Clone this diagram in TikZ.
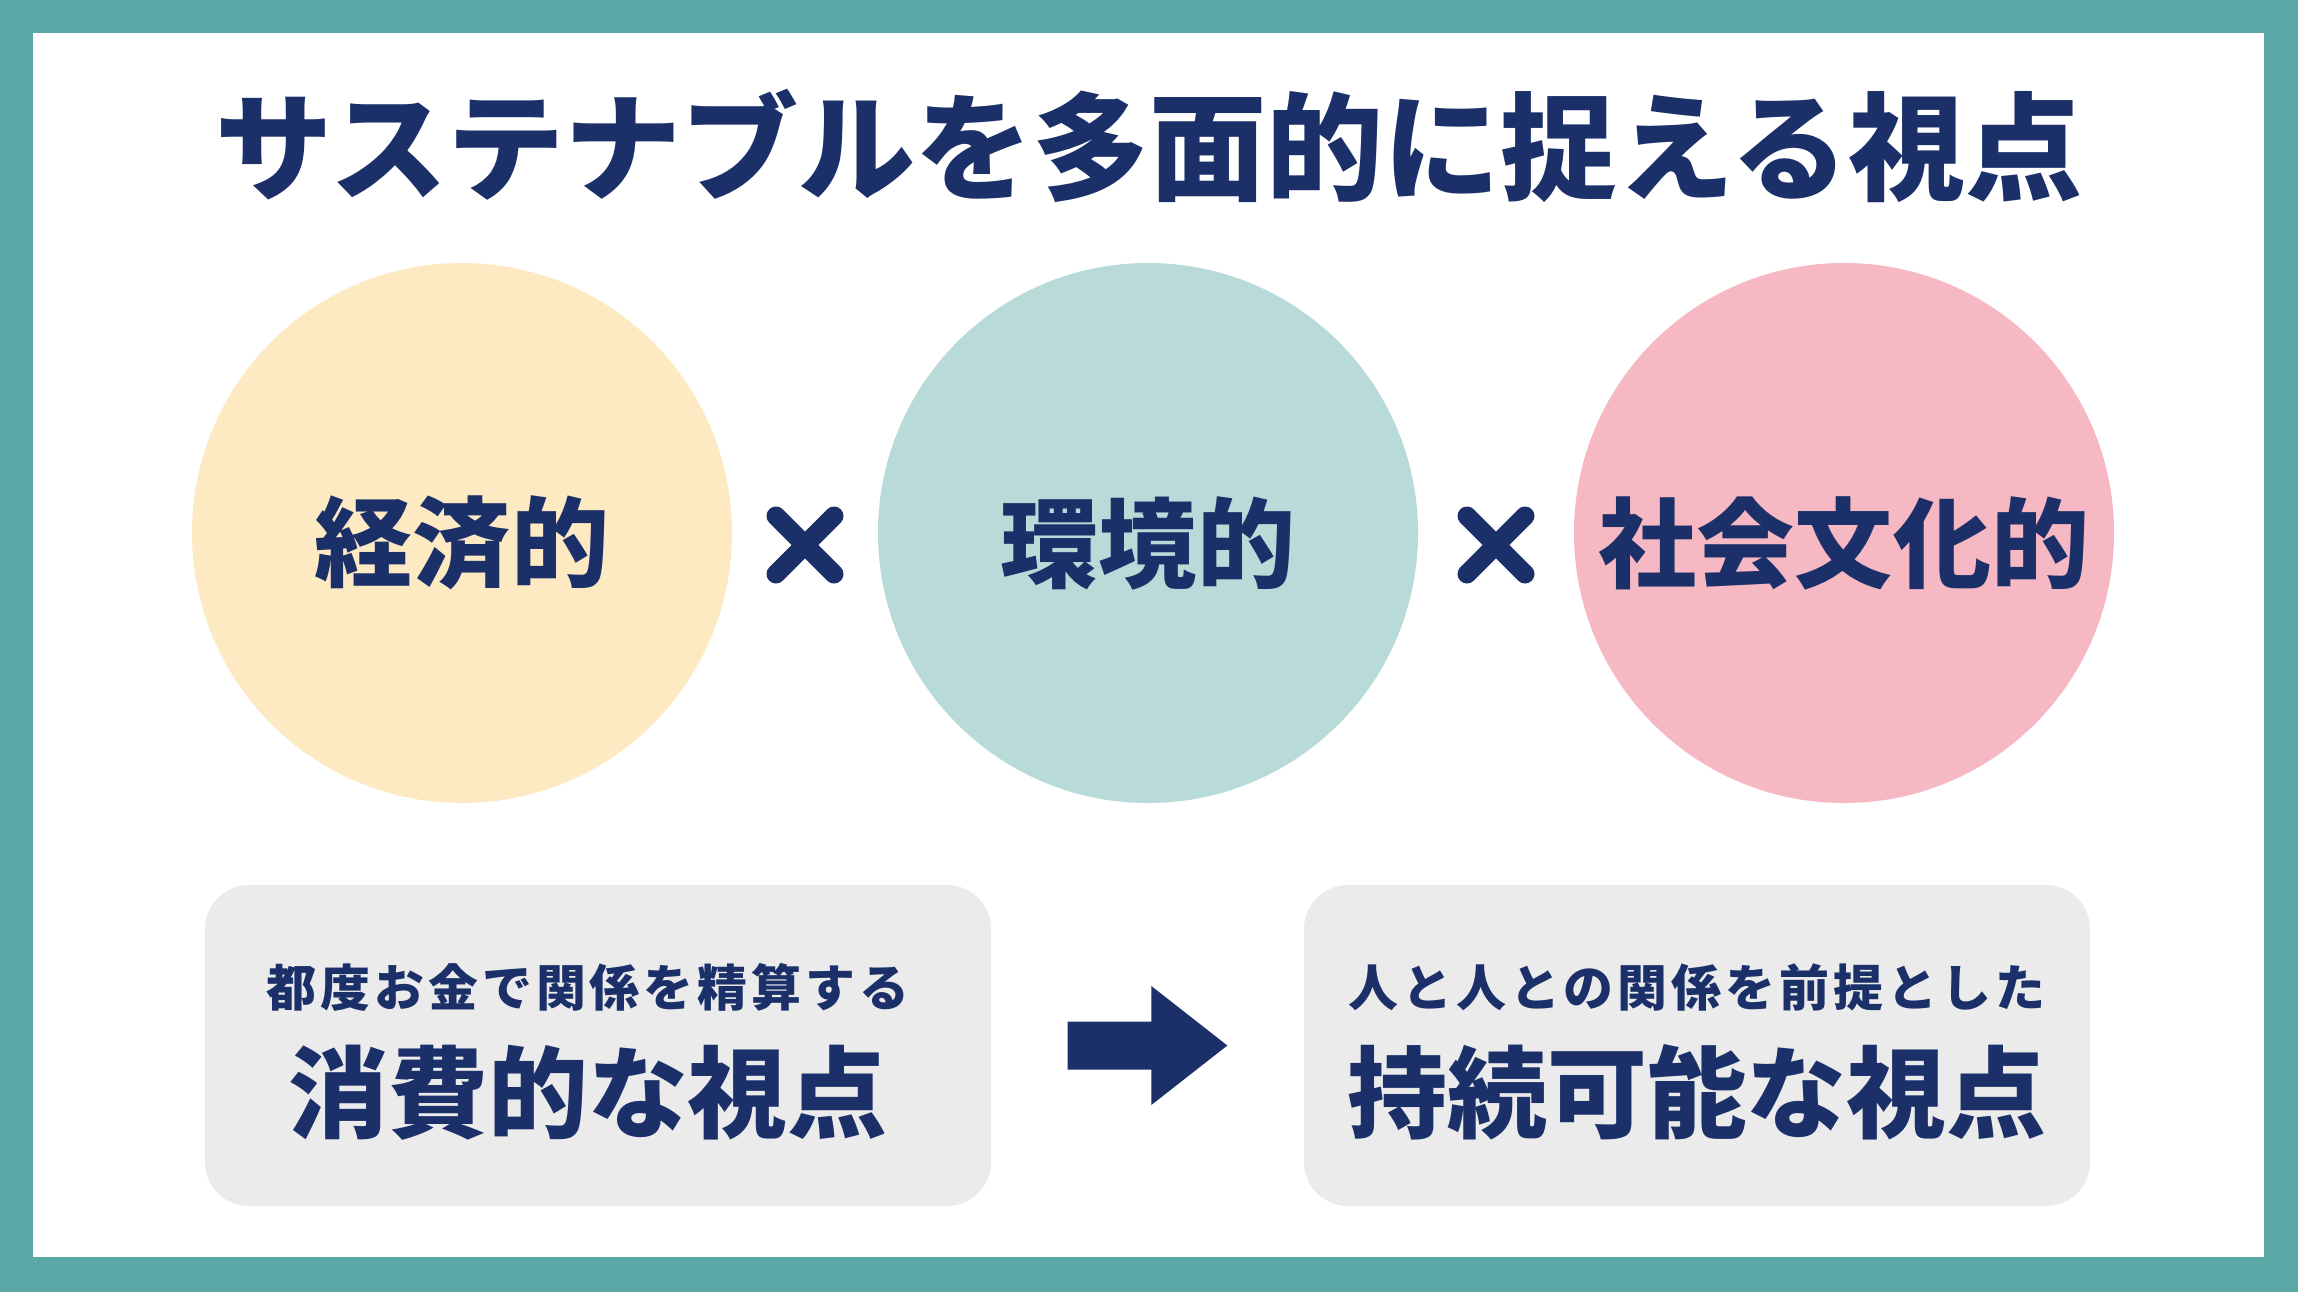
\documentclass[tikz,border=0pt]{standalone}
\usepackage{fontspec}
\newfontfamily\jpfont{Noto Sans CJK JP}[BoldFont={Noto Sans CJK JP Black}]
\usetikzlibrary{positioning,calc}
\definecolor{navy}{RGB}{27,47,105}
\definecolor{frame}{RGB}{89,168,166}
\definecolor{cream}{RGB}{253,234,195}
\definecolor{mint}{RGB}{184,218,217}
\definecolor{blush}{RGB}{246,184,195}
\definecolor{panel}{RGB}{235,235,235}
\tikzset{
  heading/.style={font=\jpfont\bfseries\fontsize{33.3}{36}\selectfont,text=navy},
  disc/.style={circle,fill=#1,minimum size=54mm,inner sep=0pt},
  disc/.default=cream,
  disc label/.style={font=\jpfont\bfseries\fontsize{27.9}{30}\selectfont,text=navy},
  card/.style={fill=panel,rounded corners=4.4mm,minimum width=78.6mm,minimum height=32.1mm},
  card sub/.style={font=\jpfont\bfseries\fontsize{14.2}{16}\selectfont\addfontfeature{LetterSpace=8},text=navy},
  card main/.style={font=\jpfont\bfseries\fontsize{28.4}{30}\selectfont,text=navy},
  % pictogram
  pics/cross/.style={code={
    \draw[#1,line width=1.9mm,line cap=round] (-0.29,-0.29) -- (0.29,0.29) (-0.29,0.29) -- (0.29,-0.29);
  }},
  pics/cross/.default=navy,
}

\begin{document}
\begin{tikzpicture}
  \useasboundingbox (0,0) rectangle (22.98,12.92);
  \fill[frame] (0,0) rectangle (22.98,12.92);
  \fill[white] (0.33,0.35) rectangle (22.64,12.59);

  \node[heading] (title) at (11.49,11.46) {サステナブルを多面的に捉える視点};

  \foreach \x/\c/\n/\l in {
    4.62/cream/eco/経済的,
    11.48/mint/env/環境的,
    18.44/blush/soc/社会文化的}
  {
    \node[disc=\c] (\n) at (\x,7.59) {};
    \node[disc label] (\n t) at ($(\n)+(0,-0.1)$) {\l};
  }
  \path ($(eco)!0.5!(env)+(0,-0.12)$) pic {cross};
  \path ($(env)!0.5!(soc)+(0,-0.12)$) pic {cross};

  \node[card] (cons) at (5.98,2.465) {};
  \node[card sub] (cons sub) at ($(cons)+(-0.1,0.58)$) {都度お金で関係を精算する};
  \node[card main] (cons main) at ($(cons)+(-0.1,-0.47)$) {消費的な視点};

  \node[card] (sust) at (16.97,2.465) {};
  \node[card sub] (sust sub) at ($(sust)+(0,0.58)$) {人と人との関係を前提とした};
  \node[card main] (sust main) at ($(sust)+(0,-0.47)$) {持続可能な視点};

  \coordinate (a) at ($(cons.east)+(0.76,0)$);
  \coordinate (b) at ($(sust.west)+(-0.76,0)$);
  \fill[navy] ($(a)+(0,0.24)$) -- ($(b)+(-0.76,0.24)$) -- ($(b)+(-0.76,0.595)$) -- (b)
    -- ($(b)+(-0.76,-0.595)$) -- ($(b)+(-0.76,-0.24)$) -- ($(a)+(0,-0.24)$) -- cycle;
\end{tikzpicture}
\end{document}
